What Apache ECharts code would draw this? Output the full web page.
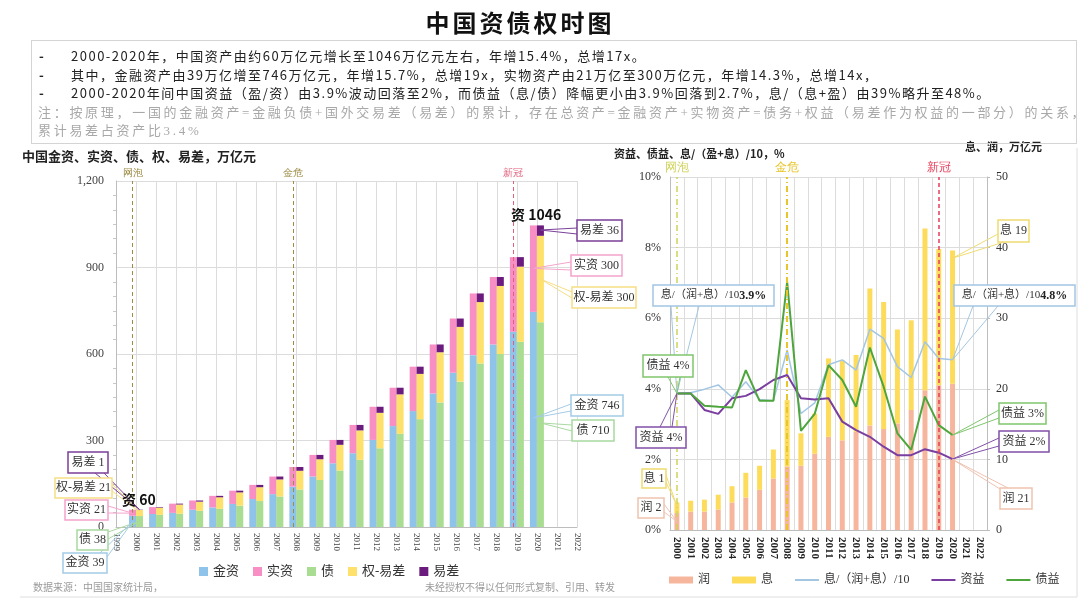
<!DOCTYPE html>
<html lang="zh">
<head>
    <meta charset="UTF-8">
    <title>中国资债权时图</title>
    <script src="https://cdn.jsdelivr.net/npm/echarts@6/dist/echarts.min.js"></script>
    <style>
        html, body { margin: 0; padding: 0; background: #fff; }
        #wrap { position: relative; width: 1080px; height: 599px; overflow: hidden; }
        #main { position: absolute; left: 0; top: 0; width: 1080px; height: 599px; }
        .t { position: absolute; white-space: nowrap; font-family: "Noto Sans CJK SC", sans-serif; }
        #title { left: 0; width: 1040px; top: 4px; text-align: center; font-size: 24px; font-weight: bold; letter-spacing: 3px; color: #111; }
        #box { position: absolute; left: 31px; top: 40px; width: 1044px; height: 102px; border: 1px solid #d4d4d4; }
        .ln { font-size: 13px; letter-spacing: 1.5px; color: #222; left: 71px; }
        .bl { font-size: 13px; font-weight: bold; color: #222; left: 39px; }
        .nt { font-size: 13px; letter-spacing: 2.7px; color: #a8a8a8; left: 38px; font-family: "Liberation Serif", "Noto Sans CJK SC", serif; }
    </style>
</head>
<body>
<div id="wrap">
    <div id="main"></div>
    <div class="t" id="title">中国资债权时图</div>
    <div id="box"></div>
    <div class="t bl" style="top:46px">-</div>
    <div class="t ln" style="top:46px">2000-2020年，中国资产由约60万亿元增长至1046万亿元左右，年增15.4%，总增17x。</div>
    <div class="t bl" style="top:65px">-</div>
    <div class="t ln" style="top:65px">其中，金融资产由39万亿增至746万亿元，年增15.7%，总增19x，实物资产由21万亿至300万亿元，年增14.3%，总增14x，</div>
    <div class="t bl" style="top:83px">-</div>
    <div class="t ln" style="top:83px">2000-2020年间中国资益（盈/资）由3.9%波动回落至2%，而债益（息/债）降幅更小由3.9%回落到2.7%，息/（息+盈）由39%略升至48%。</div>
    <div class="t nt" style="top:102px">注：按原理，一国的金融资产=金融负债+国外交易差（易差）的累计，存在总资产=金融资产+实物资产=债务+权益（易差作为权益的一部分）的关系，</div>
    <div class="t nt" style="top:120px">累计易差占资产比3.4%</div>
</div>
<script>
    // 左图：2000-2020 万亿元
    var yearsL = ['1999','2000','2001','2002','2003','2004','2005','2006','2007','2008','2009','2010',
                  '2011','2012','2013','2014','2015','2016','2017','2018','2019','2020','2021','2022'];
    var jinZi   = [null, 39, 45, 49, 60, 68, 80, 97, 114, 140, 175, 221, 256, 302, 350, 402, 463, 535, 596, 633, 677, 746, null, null];
    var shiZi   = [null, 21, 24, 32, 32, 40, 46, 49, 61, 68, 75, 81, 98, 115, 133, 154, 170, 188, 214, 234, 259, 300, null, null];
    var zhai    = [null, 38, 42, 46, 56, 63, 74, 90, 106, 130, 163, 196, 233, 273, 323, 374, 432, 504, 567, 600, 642, 710, null, null];
    var quanYC  = [null, 21, 25, 32, 32, 40, 46, 48, 59, 65, 72, 89, 102, 123, 137, 157, 174, 190, 213, 236, 261, 300, null, null];
    var yiCha   = [null, 1, 2, 3, 4, 5, 6, 8, 10, 13, 15, 17, 19, 21, 23, 25, 27, 29, 30, 31, 33, 36, null, null];

    // 右图
    var yearsR = ['2000','2001','2002','2003','2004','2005','2006','2007','2008','2009','2010',
                  '2011','2012','2013','2014','2015','2016','2017','2018','2019','2020','2021','2022'];
    var run    = [2.4, 2.6, 2.6, 2.9, 3.9, 4.6, 5.7, 7.3, 9.0, 9.1, 10.8, 13.2, 12.7, 13.9, 14.8, 14.3, 15.1, 17.0, 19.8, 20.5, 20.7, null, null];
    var xi     = [1.5, 1.55, 1.7, 2.1, 2.3, 3.5, 3.4, 4.1, 9.4, 4.6, 5.7, 11.1, 11.3, 10.9, 19.4, 18.0, 13.3, 12.7, 22.9, 19.3, 18.9, null, null];
    var xiRatio = [3.87, 3.89, 3.99, 4.11, 3.76, 4.2, 3.7, 3.66, 5.1, 3.3, 3.6, 4.68, 4.82, 4.53, 5.69, 5.43, 4.63, 4.32, 5.33, 4.86, 4.82, null, null];
    var ziYi   = [3.87, 3.87, 3.40, 3.29, 3.73, 3.80, 3.99, 4.25, 4.39, 3.73, 3.70, 3.73, 3.07, 2.83, 2.64, 2.36, 2.12, 2.12, 2.29, 2.19, 2.01, null, null];
    var zhaiYi = [3.87, 3.87, 3.52, 3.49, 3.47, 4.53, 3.66, 3.66, 7.03, 2.81, 3.29, 4.67, 4.25, 3.49, 5.17, 4.06, 2.74, 2.27, 3.78, 2.97, 2.69, null, null];

    var serif = '"Liberation Serif", "Noto Sans CJK SC", serif';
    var gridC = '#dcdcdc', axC = '#bdbdbd';
    var lineIcon = 'path://M0,0H24V2H0Z';

    function evLine(year, name, color, width, type, size) {
        return {
            xAxis: year,
            lineStyle: { color: color, width: width, type: type },
            label: { show: true, position: 'end', formatter: name, color: color, fontSize: size, distance: 3 }
        };
    }

    var myChart = echarts.init(document.getElementById('main'));
    var option = {
        animation: false,
        grid: [
            { left: 116, right: 503, top: 181, bottom: 72 },
            { left: 670, right: 93, top: 177, bottom: 69 }
        ],
        legend: [{
            data: ['金资', '实资', '债', '权-易差', '易差'],
            left: 194, top: 560, icon: 'rect', itemWidth: 9, itemHeight: 9, itemGap: 14,
            textStyle: { fontSize: 13, color: '#333', fontFamily: serif }
        }, {
            data: [
                { name: '润', icon: 'rect' },
                { name: '息', icon: 'rect' },
                { name: '息/（润+息）/10', icon: lineIcon },
                { name: '资益', icon: lineIcon },
                { name: '债益', icon: lineIcon }
            ],
            left: 664, top: 569, itemWidth: 24, itemHeight: 7, itemGap: 22, symbolKeepAspect: true,
            textStyle: { fontSize: 12, color: '#333', fontFamily: serif }
        }],
        xAxis: [{
            gridIndex: 0, type: 'category', data: yearsL, boundaryGap: false,
            axisLine: { lineStyle: { color: axC } }, axisTick: { show: false },
            axisLabel: { rotate: -90, fontSize: 9, color: '#444', margin: 6, fontFamily: serif, interval: 0 },
            splitLine: { show: true, interval: 0, lineStyle: { color: gridC } }
        }, {
            gridIndex: 1, type: 'category', data: yearsR, boundaryGap: true,
            axisLine: { lineStyle: { color: axC } }, axisTick: { show: false },
            axisLabel: { rotate: -90, fontSize: 11, fontWeight: 'bold', color: '#222', margin: 7, fontFamily: serif, interval: 0 },
            splitLine: { show: true, interval: 0, lineStyle: { color: gridC } }
        }],
        yAxis: [{
            gridIndex: 0, type: 'value', min: 0, max: 1200, interval: 300,
            axisLine: { show: true, lineStyle: { color: axC } },
            axisLabel: { fontSize: 12, color: '#444', margin: 12, fontFamily: serif,
                formatter: function (v) { return v.toLocaleString('en-US'); } },
            minorTick: { show: true, splitNumber: 6, length: 3, lineStyle: { color: '#c8c8c8' } },
            splitLine: { lineStyle: { color: gridC } }
        }, {
            gridIndex: 1, type: 'value', min: 0, max: 10, interval: 2,
            axisLine: { show: true, lineStyle: { color: axC } },
            axisLabel: { fontSize: 12, color: '#333', margin: 9, fontFamily: serif, formatter: '{value}%' },
            splitLine: { lineStyle: { color: gridC } }
        }, {
            gridIndex: 1, type: 'value', min: 0, max: 50, interval: 10, position: 'right',
            axisLine: { show: true, lineStyle: { color: axC } },
            axisTick: { show: true, length: 3, lineStyle: { color: axC } },
            axisLabel: { fontSize: 12, color: '#333', margin: 9, fontFamily: serif },
            splitLine: { show: false }
        }],
        series: [
            { name: '金资', type: 'bar', xAxisIndex: 0, yAxisIndex: 0, stack: 'a', data: jinZi,
              barWidth: 7, barGap: '0%', itemStyle: { color: '#8fc3ea' },
              markLine: { silent: true, symbol: ['none', 'none'], data: [
                  evLine('2000', '网泡', '#9c8c44', 1, [4, 3], 10),
                  evLine('2008', '金危', '#9c8c44', 1, [4, 3], 10),
                  evLine('2019', '新冠', '#e0607c', 1, [4, 3], 10)
              ] } },
            { name: '实资', type: 'bar', xAxisIndex: 0, yAxisIndex: 0, stack: 'a', data: shiZi,
              barWidth: 7, barGap: '0%', itemStyle: { color: '#f78fc4' } },
            { name: '债', type: 'bar', xAxisIndex: 0, yAxisIndex: 0, stack: 'b', data: zhai,
              barWidth: 7, barGap: '0%', itemStyle: { color: '#a9dd91' } },
            { name: '权-易差', type: 'bar', xAxisIndex: 0, yAxisIndex: 0, stack: 'b', data: quanYC,
              barWidth: 7, barGap: '0%', itemStyle: { color: '#fde16b' } },
            { name: '易差', type: 'bar', xAxisIndex: 0, yAxisIndex: 0, stack: 'b', data: yiCha,
              barWidth: 7, barGap: '0%', itemStyle: { color: '#6a1b7d' } },

            { name: '润', type: 'bar', xAxisIndex: 1, yAxisIndex: 2, stack: 'r', data: run,
              barWidth: 5, itemStyle: { color: '#f5b69d' } },
            { name: '息', type: 'bar', xAxisIndex: 1, yAxisIndex: 2, stack: 'r', data: xi,
              barWidth: 5, itemStyle: { color: '#fddc5c' },
              markLine: { silent: true, symbol: ['none', 'none'], data: [
                  evLine('2000', '网泡', '#cfd25a', 1.5, [6, 3, 1, 3], 12),
                  evLine('2008', '金危', '#e8c52a', 2, [6, 3, 1, 3], 12),
                  evLine('2019', '新冠', '#e63c58', 1.5, [4, 3], 12)
              ] } },
            { name: '息/（润+息）/10', type: 'line', xAxisIndex: 1, yAxisIndex: 1, data: xiRatio,
              symbol: 'none', lineStyle: { color: '#a3c6e3', width: 1.5 }, itemStyle: { color: '#a3c6e3' } },
            { name: '资益', type: 'line', xAxisIndex: 1, yAxisIndex: 1, data: ziYi,
              symbol: 'none', lineStyle: { color: '#7a3ea0', width: 2 }, itemStyle: { color: '#7a3ea0' } },
            { name: '债益', type: 'line', xAxisIndex: 1, yAxisIndex: 1, data: zhaiYi,
              symbol: 'none', lineStyle: { color: '#4ea53c', width: 2 }, itemStyle: { color: '#4ea53c' } }
        ]
    };
    myChart.setOption(option);

    // 标注框：位置为版面，指向点由坐标轴换算
    var callouts = [
        // 左图 2000
        { t: '易差 1', c: '#7b3f98', b: [68, 452, 40, 21], base: [[95, 473], [104, 473]], at: [0, 0, '2000', 60, 3.5] },
        { t: '权-易差 21', c: '#f6de85', b: [55, 478, 57, 20], base: [[112, 484], [112, 491]], at: [0, 0, '2000', 52, 3.5] },
        { t: '实资 21', c: '#f5a3cc', b: [65, 500, 43, 20], base: [[108, 506], [108, 513]], at: [0, 0, '2000', 48, -3.5] },
        { t: '债 38', c: '#a9d9a0', b: [77, 530, 31, 20], base: [[108, 532], [108, 539]], at: [0, 0, '2000', 20, 3.5] },
        { t: '金资 39', c: '#a3cbe6', b: [63, 553, 44, 20], base: [[100, 553], [107, 557]], at: [0, 0, '2000', 18, -3.5] },
        // 左图 2020
        { t: '易差 36', c: '#7b3f98', b: [577, 220, 45, 21], base: [[577, 228], [577, 234]], at: [0, 0, '2020', 1030, 3.5] },
        { t: '实资 300', c: '#f5a3cc', b: [571, 255, 51, 21], base: [[571, 262], [571, 270]], at: [0, 0, '2020', 897, -3.5] },
        { t: '权-易差 300', c: '#f6de85', b: [572, 287, 64, 21], base: [[572, 292], [572, 298]], at: [0, 0, '2020', 860, 3.5] },
        { t: '金资 746', c: '#a3cbe6', b: [571, 395, 52, 21], base: [[571, 404], [571, 411]], at: [0, 0, '2020', 378, -3.5] },
        { t: '债 710', c: '#a9d9a0', b: [572, 420, 42, 21], base: [[572, 425], [572, 431]], at: [0, 0, '2020', 361, 3.5] },
        // 右图
        { t: '{a|息/（润+息）/10}{b|3.9%}', c: '#a3c6e3', b: [653, 285, 121, 21], base: [[671, 306], [699, 306]], at: [1, 1, '2000', 3.87, 0] },
        { t: '{a|息/（润+息）/10}{b|4.8%}', c: '#a3c6e3', b: [954, 285, 121, 21], base: [[973, 306], [998, 306]], at: [1, 1, '2020', 4.82, 0] },
        { t: '债益 4%', c: '#7fc56c', b: [643, 355, 50, 22], base: [[668, 377], [680, 377]], at: [1, 1, '2000', 3.87, 0] },
        { t: '资益 4%', c: '#8050a8', b: [636, 427, 50, 21], base: [[660, 427], [672, 427]], at: [1, 1, '2000', 3.87, 0] },
        { t: '息 1', c: '#efdc72', b: [642, 469, 24, 19], base: [[666, 475], [666, 482]], at: [1, 2, '2000', 3.4, 0] },
        { t: '润 2', c: '#efc2b0', b: [638, 498, 26, 20], base: [[664, 504], [664, 512]], at: [1, 2, '2000', 1.2, 0] },
        { t: '息 19', c: '#efdc72', b: [998, 220, 31, 22], base: [[998, 234], [1004, 242]], at: [1, 2, '2020', 38.5, 0] },
        { t: '债益 3%', c: '#7fc56c', b: [999, 403, 47, 21], base: [[999, 410], [999, 418]], at: [1, 1, '2020', 2.69, 0] },
        { t: '资益 2%', c: '#8050a8', b: [999, 431, 50, 21], base: [[999, 438], [999, 446]], at: [1, 1, '2020', 2.01, 0] },
        { t: '润 21', c: '#efc2b0', b: [1000, 488, 32, 21], base: [[1000, 489], [1008, 488]], at: [1, 2, '2020', 10, 0] }
    ];

    var g = [];
    callouts.forEach(function (o) {
        var p = myChart.convertToPixel({ xAxisIndex: o.at[0], yAxisIndex: o.at[1] }, [o.at[2], o.at[3]]);
        var ap = [p[0] + o.at[4], p[1]];
        g.push({ type: 'polyline', z: 20, silent: true,
                 shape: { points: [o.base[0], ap, o.base[1]] },
                 style: { stroke: o.c, fill: null, lineWidth: 1 } });
        g.push({ type: 'rect', z: 21, silent: true,
                 shape: { x: o.b[0], y: o.b[1], width: o.b[2], height: o.b[3] },
                 style: { fill: '#fff', stroke: o.c, lineWidth: 1.5 } });
        g.push({ type: 'text', z: 22, silent: true,
                 style: { text: o.t, x: o.b[0] + o.b[2] / 2, y: o.b[1] + o.b[3] / 2,
                          textAlign: 'center', textVerticalAlign: 'middle', align: 'center', verticalAlign: 'middle',
                          font: '12px ' + serif, fill: '#333',
                          rich: { a: { font: '11px ' + serif, fill: '#333' },
                                  b: { font: 'bold 12px ' + serif, fill: '#222' } } } });
    });

    function txt(s, x, y, font, color, align) {
        return { type: 'text', z: 25, silent: true,
                 style: { text: s, x: x, y: y, font: font, fill: color,
                          textAlign: align || 'left', align: align || 'left',
                          textVerticalAlign: 'middle', verticalAlign: 'middle' } };
    }
    g.push(txt('资 60', 122, 500, 'bold 14px "Noto Sans CJK SC", sans-serif', '#111'));
    g.push(txt('资 1046', 511, 215, 'bold 14px "Noto Sans CJK SC", sans-serif', '#111'));
    g.push(txt('中国金资、实资、债、权、易差，万亿元', 22, 156, 'bold 13px "Noto Sans CJK SC", sans-serif', '#222'));
    g.push(txt('资益、债益、息/（盈+息）/10，%', 614, 154, 'bold 11px "Noto Sans CJK SC", sans-serif', '#222'));
    g.push(txt('息、润，万亿元', 965, 147, 'bold 11px "Noto Sans CJK SC", sans-serif', '#222'));
    g.push(txt('数据来源：中国国家统计局，', 33, 587, '10px "Noto Sans CJK SC", sans-serif', '#9a9a9a'));
    g.push(txt('未经授权不得以任何形式复制、引用、转发', 425, 587, '10px "Noto Sans CJK SC", sans-serif', '#9a9a9a'));
    g.push({ type: 'polyline', z: 1, silent: true,
             shape: { points: [[20, 597], [1077, 597], [1077, 148]] },
             style: { stroke: '#dedede', fill: null, lineWidth: 1 } });

    myChart.setOption({ graphic: g });
</script>
</body>
</html>
